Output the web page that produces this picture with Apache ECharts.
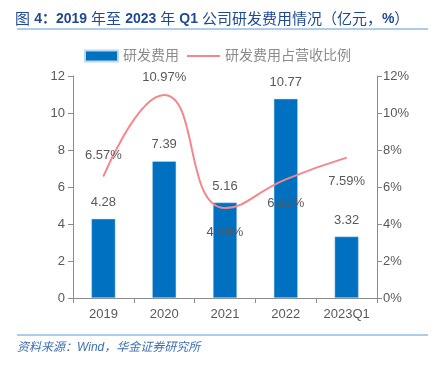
<!DOCTYPE html>
<html><head><meta charset="utf-8">
<script src="https://cdn.jsdelivr.net/npm/echarts@6/dist/echarts.min.js"></script>
<style>html,body{margin:0;padding:0;background:#fff;}#c{width:435px;height:367px;}</style>
</head><body><div id="c"></div>
<script>
const categories = ['2019', '2020', '2021', '2022', '2023Q1'];
const rdExpense = [4.28, 7.39, 5.16, 10.77, 3.32];
const rdRatio = [6.57, 10.97, 4.86, 6.41, 7.59];
const ratioLabelPos = ['top', 'top', 'bottom', 'bottom', 'bottom'];

const chart = echarts.init(document.getElementById('c'), null, {renderer: 'canvas'});
const font = 'Arial, "Liberation Sans", "Noto Sans CJK SC", sans-serif';
const titleColor = '#1F4A92';
chart.setOption({
  animation: false,
  textStyle: {fontFamily: font},
  title: {
    text: '{c|图 }{b|4：2019 }{c|年至 }{b|2023 }{c|年 }{b|Q1 }{c|公司研发费用情况（亿元，}{b|%}{c|）}',
    left: 10, top: 7,
    textStyle: {
      rich: {
        b: {fontSize: 14, fontWeight: 'bold', color: titleColor, fontFamily: font},
        c: {fontSize: 15, fontWeight: 'normal', color: titleColor, fontFamily: font}
      }
    }
  },
  graphic: [
    {type: 'line', shape: {x1: 17, y1: 29, x2: 428, y2: 29}, style: {stroke: '#5B9BD5', lineWidth: 1}},
    {type: 'line', shape: {x1: 17, y1: 335, x2: 428, y2: 335}, style: {stroke: '#5B9BD5', lineWidth: 1}},
    {type: 'text', left: 17, top: 342, style: {text: '资料来源：Wind，华金证券研究所', fill: '#3E6FB5', font: 'italic 12px ' + font}}
  ],
  legend: {
    top: 44, left: 79,
    itemWidth: 33, itemHeight: 11, itemGap: 7,
    textStyle: {color: '#8C8C8C', fontSize: 14},
    data: [{name: '研发费用', icon: 'rect'}, {name: '研发费用占营收比例', itemStyle: {opacity: 0}}]
  },
  grid: {left: 73, right: 58, top: 76, bottom: 69},
  xAxis: {
    type: 'category', data: categories,
    axisLine: {lineStyle: {color: '#8C8C8C'}},
    axisTick: {show: true, alignWithLabel: false, length: 5, lineStyle: {color: '#8C8C8C'}},
    axisLabel: {color: '#595959', fontSize: 13, margin: 10}
  },
  yAxis: [
    {type: 'value', min: 0, max: 12, interval: 2,
     axisLine: {show: true, lineStyle: {color: '#8C8C8C'}},
     axisTick: {show: true, length: 5, lineStyle: {color: '#8C8C8C'}},
     splitLine: {show: false},
     axisLabel: {color: '#595959', fontSize: 13, margin: 8}},
    {type: 'value', min: 0, max: 12, interval: 2, position: 'right',
     axisLine: {show: true, lineStyle: {color: '#8C8C8C'}},
     axisTick: {show: true, length: 5, lineStyle: {color: '#8C8C8C'}},
     splitLine: {show: false},
     axisLabel: {color: '#595959', fontSize: 13, margin: 6, formatter: '{value}%'}}
  ],
  series: [
    {name: '研发费用', type: 'bar', data: rdExpense, barWidth: 24,
     itemStyle: {color: '#0070C0', borderColor: '#BDD7EE', borderWidth: 0.5},
     label: {show: true, position: 'top', distance: 10, color: '#595959', fontSize: 13}},
    {name: '研发费用占营收比例', type: 'line', yAxisIndex: 1, smooth: true,
     data: rdRatio.map((v, i) => ({value: v, label: {position: ratioLabelPos[i], distance: ratioLabelPos[i] === 'top' ? (i === 0 ? 14 : 11) : 17}})),
     symbol: 'circle', symbolSize: 1,
     lineStyle: {color: '#F4868C', width: 2},
     itemStyle: {color: '#F4868C'},
     label: {show: true, color: '#595959', fontSize: 13, formatter: p => p.value.toFixed(2) + '%'}}
  ]
});
</script></body></html>
